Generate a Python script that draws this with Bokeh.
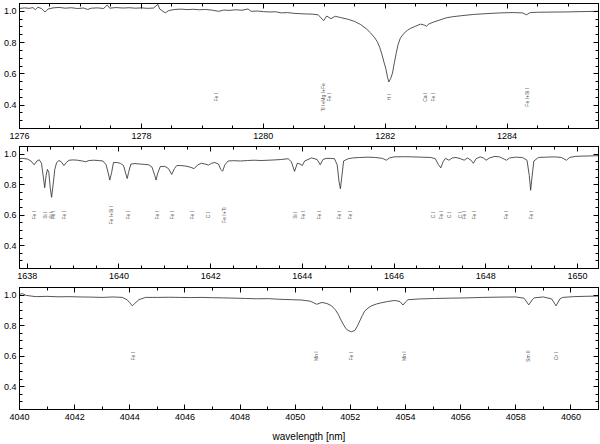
import numpy as np
from bokeh.plotting import figure
from bokeh.layouts import column
from bokeh.models import (SingleIntervalTicker, LinearAxis, Range1d, CustomJSTickFormatter,
                          PrintfTickFormatter)
from bokeh.core.properties import value
from bokeh.embed import file_html
from bokeh.resources import INLINE

# ---------------- data ----------------
wl1 = [1276.00, 1276.08, 1276.16, 1276.22, 1276.26, 1276.30, 1276.36, 1276.42, 1276.47, 1276.55,
       1276.65, 1276.75, 1276.85, 1276.95, 1277.05, 1277.12, 1277.18, 1277.28, 1277.38, 1277.44,
       1277.48, 1277.58, 1277.70, 1277.80, 1277.90, 1278.00, 1278.10, 1278.20, 1278.27, 1278.30,
       1278.39, 1278.45, 1278.55, 1278.65, 1278.75, 1278.85, 1278.95, 1279.05, 1279.15, 1279.27,
       1279.35, 1279.45, 1279.55, 1279.65, 1279.75, 1279.80, 1279.90, 1280.00, 1280.10, 1280.20,
       1280.30, 1280.40, 1280.50, 1280.60, 1280.70, 1280.80, 1280.90, 1280.99, 1281.04, 1281.11,
       1281.18, 1281.27, 1281.40, 1281.50, 1281.60, 1281.70, 1281.76, 1281.82, 1281.87, 1281.91,
       1281.95, 1281.98, 1282.01, 1282.04, 1282.06, 1282.09, 1282.12, 1282.15, 1282.18, 1282.21,
       1282.25, 1282.31, 1282.37, 1282.42, 1282.50, 1282.58, 1282.64, 1282.68, 1282.72, 1282.80,
       1282.90, 1283.00, 1283.10, 1283.25, 1283.45, 1283.65, 1283.89, 1284.10, 1284.25, 1284.32,
       1284.38, 1284.50, 1284.70, 1284.97, 1285.20, 1285.50]
fl1 = [1.018, 1.022, 1.019, 1.024, 1.010, 1.026, 1.018, 0.995, 1.015, 1.022,
       1.025, 1.020, 1.023, 1.018, 1.021, 1.012, 1.020, 1.022, 1.018, 1.040,
       1.020, 1.024, 1.021, 1.023, 1.020, 1.022, 1.019, 1.021, 1.045, 1.015,
       0.990, 1.005, 1.012, 1.014, 1.011, 1.013, 1.010, 1.012, 1.008, 1.000,
       1.008, 1.006, 1.010, 1.007, 1.015, 1.000, 1.002, 0.998, 0.996, 0.997,
       0.990, 0.992, 0.987, 0.985, 0.983, 0.982, 0.978, 0.940, 0.970, 0.953,
       0.968, 0.960, 0.948, 0.935, 0.915, 0.885, 0.862, 0.835, 0.806, 0.770,
       0.720, 0.675, 0.634, 0.575, 0.548, 0.570, 0.605, 0.670, 0.730, 0.785,
       0.830, 0.860, 0.880, 0.892, 0.905, 0.918, 0.912, 0.905, 0.920, 0.932,
       0.945, 0.958, 0.965, 0.972, 0.980, 0.985, 0.990, 0.992, 0.990, 0.978,
       0.992, 0.994, 0.995, 0.996, 0.998, 1.000]

wl2 = [1637.83, 1637.90, 1638.00, 1638.08, 1638.15, 1638.21, 1638.26, 1638.31, 1638.35, 1638.38,
       1638.41, 1638.44, 1638.47, 1638.50, 1638.53, 1638.56, 1638.60, 1638.64, 1638.69, 1638.74,
       1638.80, 1638.85, 1638.91, 1639.00, 1639.10, 1639.20, 1639.27, 1639.35, 1639.45, 1639.55,
       1639.65, 1639.72, 1639.77, 1639.80, 1639.84, 1639.88, 1639.95, 1640.03, 1640.10, 1640.15,
       1640.18, 1640.21, 1640.26, 1640.35, 1640.45, 1640.55, 1640.65, 1640.72, 1640.78, 1640.81,
       1640.84, 1640.90, 1641.00, 1641.08, 1641.15, 1641.21, 1641.26, 1641.35, 1641.45, 1641.55,
       1641.64, 1641.72, 1641.80, 1641.88, 1641.95, 1642.02, 1642.09, 1642.17, 1642.22, 1642.26,
       1642.31, 1642.38, 1642.50, 1642.65, 1642.80, 1642.95, 1643.10, 1643.25, 1643.40, 1643.55,
       1643.69, 1643.76, 1643.83, 1643.89, 1643.95, 1644.00, 1644.05, 1644.20, 1644.32, 1644.39,
       1644.45, 1644.52, 1644.62, 1644.70, 1644.76, 1644.80, 1644.83, 1644.86, 1644.90, 1645.00,
       1645.10, 1645.25, 1645.43, 1645.60, 1645.75, 1645.83, 1645.90, 1646.00, 1646.20, 1646.40,
       1646.60, 1646.80, 1646.90, 1646.97, 1647.02, 1647.07, 1647.12, 1647.20, 1647.27, 1647.35,
       1647.45, 1647.53, 1647.60, 1647.68, 1647.73, 1647.79, 1647.88, 1647.95, 1648.01, 1648.08,
       1648.20, 1648.30, 1648.40, 1648.45, 1648.52, 1648.65, 1648.80, 1648.90, 1648.95, 1648.98,
       1649.01, 1649.05, 1649.15, 1649.30, 1649.50, 1649.65, 1649.76, 1649.83, 1649.95, 1650.10,
       1650.25, 1650.46]
fl2 = [0.970, 0.972, 0.968, 0.955, 0.930, 0.955, 0.963, 0.940, 0.850, 0.780,
       0.860, 0.900, 0.880, 0.780, 0.717, 0.790, 0.900, 0.945, 0.958, 0.950,
       0.925, 0.945, 0.960, 0.962, 0.960, 0.955, 0.950, 0.958, 0.960, 0.958,
       0.955, 0.930, 0.870, 0.830, 0.880, 0.945, 0.945, 0.940, 0.925, 0.870,
       0.840, 0.880, 0.935, 0.938, 0.935, 0.933, 0.930, 0.915, 0.860, 0.830,
       0.870, 0.918, 0.920, 0.905, 0.867, 0.905, 0.925, 0.925, 0.922, 0.915,
       0.905, 0.930, 0.940, 0.935, 0.928, 0.940, 0.945, 0.935, 0.900, 0.888,
       0.930, 0.955, 0.957, 0.955, 0.958, 0.960, 0.958, 0.960, 0.962, 0.965,
       0.970, 0.950, 0.887, 0.940, 0.935, 0.925, 0.955, 0.975, 0.965, 0.930,
       0.965, 0.972, 0.972, 0.970, 0.930, 0.820, 0.773, 0.850, 0.955, 0.970,
       0.975, 0.978, 0.980, 0.978, 0.972, 0.960, 0.975, 0.982, 0.983, 0.982,
       0.980, 0.978, 0.970, 0.930, 0.910, 0.950, 0.972, 0.960, 0.975, 0.978,
       0.970, 0.960, 0.975, 0.960, 0.940, 0.970, 0.982, 0.975, 0.960, 0.975,
       0.985, 0.982, 0.968, 0.960, 0.975, 0.980, 0.978, 0.960, 0.860, 0.763,
       0.850, 0.955, 0.978, 0.980, 0.982, 0.978, 0.960, 0.978, 0.985, 0.987,
       0.988, 0.990]

wl3 = [4040.00, 4040.10, 4040.25, 4040.59, 4041.00, 4041.40, 4041.80, 4042.20, 4042.60, 4043.00,
       4043.40, 4043.73, 4043.90, 4044.00, 4044.09, 4044.18, 4044.33, 4044.57, 4045.00, 4045.41,
       4045.80, 4046.20, 4046.62, 4047.00, 4047.40, 4047.82, 4048.20, 4048.60, 4049.03, 4049.40,
       4049.87, 4050.23, 4050.55, 4050.78, 4050.97, 4051.15, 4051.32, 4051.45, 4051.56, 4051.65,
       4051.74, 4051.84, 4051.92, 4052.04, 4052.16, 4052.25, 4052.34, 4052.43, 4052.52, 4052.64,
       4052.77, 4052.95, 4053.13, 4053.35, 4053.61, 4053.80, 4053.91, 4054.00, 4054.09, 4054.50,
       4055.06, 4055.60, 4056.26, 4056.80, 4057.47, 4058.00, 4058.30, 4058.47, 4058.60, 4058.67,
       4059.00, 4059.30, 4059.46, 4059.60, 4059.70, 4060.10, 4060.48, 4061.00]
fl3 = [1.005, 1.010, 0.998, 0.990, 0.992, 0.989, 0.990, 0.988, 0.987, 0.985,
       0.988, 0.985, 0.970, 0.950, 0.930, 0.945, 0.970, 0.985, 0.985, 0.986,
       0.985, 0.984, 0.985, 0.983, 0.982, 0.980, 0.978, 0.976, 0.977, 0.973,
       0.970, 0.968, 0.960, 0.940, 0.952, 0.945, 0.930, 0.905, 0.875, 0.840,
       0.810, 0.780, 0.768, 0.760, 0.768, 0.795, 0.830, 0.865, 0.895, 0.915,
       0.930, 0.942, 0.950, 0.958, 0.965, 0.958, 0.935, 0.955, 0.970, 0.975,
       0.978, 0.980, 0.982, 0.985, 0.987, 0.988, 0.980, 0.936, 0.970, 0.982,
       0.988, 0.975, 0.930, 0.975, 0.985, 0.990, 0.992, 0.994]

# line identifications
id1_x = [1279.22, 1280.98, 1281.08, 1282.07, 1282.66, 1282.78, 1284.33]
id1_t = ["Fe I", "Ti I+Mg I+Fe", "Fe I", "H I", "Ca I", "Fe I", "Fe I+Si I"]
id2_x = [1638.15, 1638.38, 1638.51, 1638.57, 1638.80, 1639.83, 1640.20, 1640.83, 1641.15,
         1641.59, 1641.95, 1642.28, 1643.83, 1644.01, 1644.37, 1644.81, 1645.03, 1646.84,
         1647.02, 1647.20, 1647.44, 1647.53, 1647.74, 1648.45, 1648.98]
id2_t = ["Fe I", "Si I", "Si I", "Fe I", "Fe I", "Fe I+Si I", "Fe I", "Fe I", "Fe I",
         "Fe I", "C I", "Fe I+Ti", "Si I", "Fe I", "Fe I", "Fe I", "Fe I", "C I",
         "Fe I", "C I", "C I", "Fe I", "Fe I", "Fe I", "Fe I"]
id3_x = [4044.10, 4050.74, 4052.04, 4053.93, 4058.45, 4059.47]
id3_t = ["Fe I", "Mn I", "Fe I", "Mn I", "Sm II", "Cr I"]

FONT = "Liberation Sans"


def panel(wl, fl, xr, minor, idx, idt, idy, height, bottom, xlabel=None):
    p = figure(width=600, height=height, x_range=Range1d(*xr), y_range=Range1d(0.25, 1.05),
               output_backend="svg", toolbar_location=None,
               min_border_left=17, min_border_right=2, min_border_top=3,
               min_border_bottom=bottom)
    p.xgrid.visible = False
    p.ygrid.visible = False
    p.outline_line_color = "black"
    p.outline_line_width = 1
    p.background_fill_color = "white"
    p.border_fill_color = "white"

    xax = p.below[0]
    yax = p.left[0]
    xax.ticker = SingleIntervalTicker(interval=2, num_minor_ticks=minor)
    yax.ticker = SingleIntervalTicker(interval=0.2, num_minor_ticks=4)
    yax.formatter = PrintfTickFormatter(format="%.1f")
    for ax in [xax, yax]:
        ax.major_tick_in = 5
        ax.major_tick_out = 0
        ax.minor_tick_in = 3
        ax.minor_tick_out = 0
        ax.axis_line_color = "black"
        ax.major_tick_line_color = "black"
        ax.minor_tick_line_color = "black"
        ax.major_label_text_font = FONT
        ax.major_label_text_font_size = "9px"
        ax.major_label_text_color = "black"
        ax.major_label_standoff = 3
    xax.major_label_standoff = 4

    blank = CustomJSTickFormatter(code="return ''")
    top = LinearAxis(ticker=SingleIntervalTicker(interval=2, num_minor_ticks=minor),
                     formatter=blank)
    right = LinearAxis(ticker=SingleIntervalTicker(interval=0.2, num_minor_ticks=4),
                       formatter=blank)
    for ax in [top, right]:
        ax.major_tick_in = 5
        ax.major_tick_out = 0
        ax.minor_tick_in = 3
        ax.minor_tick_out = 0
        ax.major_label_standoff = 0
        ax.axis_line_color = "black"
    p.add_layout(top, "above")
    p.add_layout(right, "right")

    if xlabel:
        xax.axis_label = xlabel
        xax.axis_label_text_font = FONT
        xax.axis_label_text_font_size = "10px"
        xax.axis_label_text_font_style = "normal"
        xax.axis_label_text_color = "black"
        xax.axis_label_standoff = 8

    p.line(wl, fl, line_color="#2a2a2a", line_width=0.8)
    p.text(x=idx, y=[idy] * len(idx), text=idt, angle=np.pi / 2,
           text_font=value(FONT), text_font_size="5px", text_color="#555555",
           text_align="center", text_baseline="middle")
    return p


p1 = panel(wl1, fl1, (1276, 1285.5), 4, id1_x, id1_t, 0.45, 143, 15)
p2 = panel(wl2, fl2, (1637.83, 1650.46), 4, id2_x, id2_t, 0.60, 141, 16)
p3 = panel(wl3, fl3, (4040, 4061), 2, id3_x, id3_t, 0.60, 160, 31, "wavelength [nm]")

layout = column(p1, p2, p3, spacing=0)

open("out.html", "w").write(file_html(layout, INLINE))
